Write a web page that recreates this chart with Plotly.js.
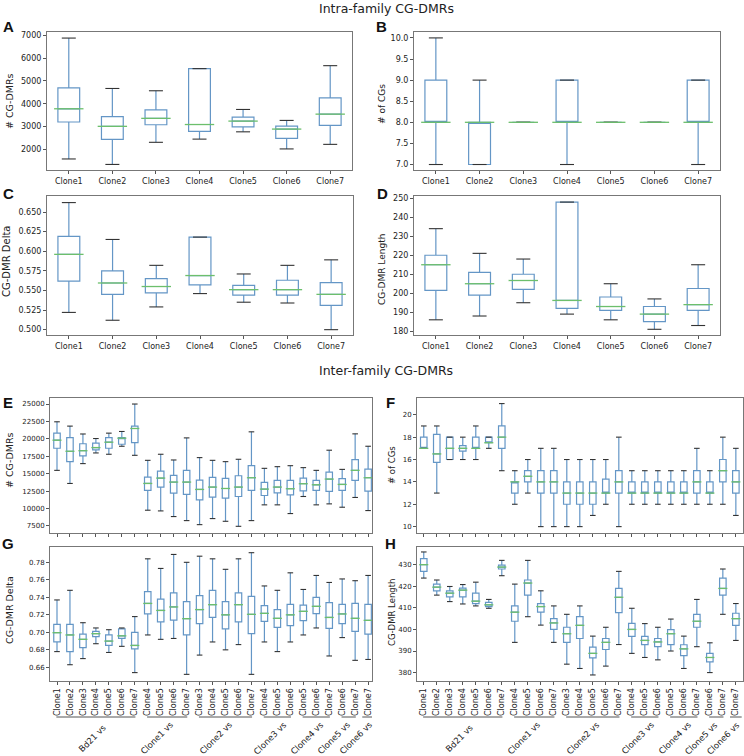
<!DOCTYPE html>
<html><head><meta charset="utf-8">
<script src="https://cdn.plot.ly/plotly-3.0.1.min.js"></script>
<style>html,body{margin:0;padding:0;background:#fff}</style>
</head><body><div id="chart" style="width:744px;height:756px"></div>
<script>
// ---------- DATA ----------
const intraCategories = ['Clone1','Clone2','Clone3','Clone4','Clone5','Clone6','Clone7'];

// A: # CG-DMRs (intra)
const aLow  = [1580,1340,2310,2450,2770,2020,2220];
const aQ1   = [3200,2440,3080,2790,2990,2480,3050];
const aMed  = [3780,3010,3360,3090,3240,2890,3545];
const aQ3   = [4700,3440,3735,5540,3414,3020,4260];
const aHigh = [6880,4670,4570,5540,3750,3270,5670];

// B: # of CGs (intra)
const bLow  = [7,7,8,7,8,8,7];
const bQ1   = [8,7,8,8,8,8,8];
const bMed  = [8,8,8,8,8,8,8];
const bQ3   = [9,8,8,9,8,8,9];
const bHigh = [10,9,8,9,8,8,9];

// C: CG-DMR Delta (intra)
const cLow  = [0.522,0.512,0.529,0.546,0.535,0.534,0.500];
const cQ1   = [0.562,0.545,0.547,0.557,0.544,0.544,0.531];
const cMed  = [0.596,0.5595,0.555,0.569,0.551,0.551,0.545];
const cQ3   = [0.619,0.575,0.565,0.618,0.5565,0.563,0.560];
const cHigh = [0.662,0.615,0.582,0.618,0.571,0.582,0.589];

// D: CG-DMR Length (intra)
const dLow  = [186,188,195,189,186,181,183];
const dQ1   = [201.5,199,202,192,191,185,191];
const dMed  = [215,205,206.7,196.2,193,189,194];
const dQ3   = [220,211,210,248,198,193,202.5];
const dHigh = [234,221,218,248,205,197,215];

// Inter-family comparisons
const interTickLabels = ['Clone1','Clone2','Clone3','Clone4','Clone5','Clone6','Clone7',
  'Clone4','Clone5','Clone6','Clone7',
  'Clone3','Clone4','Clone5','Clone6','Clone7',
  'Clone4','Clone5','Clone6',
  'Clone5','Clone6','Clone7',
  'Clone6','Clone7',
  'Clone7'];
const interGroups = ['Bd21 vs','Clone1 vs','Clone2 vs','Clone3 vs','Clone4 vs','Clone5 vs','Clone6 vs'];
const interGroupSizes = [7,4,5,3,3,2,1];

// E: # CG-DMRs (inter)
const eLow  = [15480,13600,16450,17980,17790,18940,17640, 9760,9660,8850,8270, 7690,8560,8170,7450,8270, 10530,10530,9280, 11730,10530,10670, 10190,11590,9710];
const eQ1   = [18650,16730,17550,18410,18650,19230,19470, 12600,13080,12210,12020, 11250,11630,11490,11730,12600, 11870,12260,11970, 12550,12600,12450, 12600,14040,12500];
const eMed  = [19810,18220,18300,18750,19520,20100,21490, 13600,14370,13800,13800, 12740,13080,12880,13080,14420, 12790,13080,12840, 13560,13410,14230, 13460,15480,14420];
const eQ3   = [20820,20190,19300,19375,20190,20190,21830, 14520,15380,14760,15480, 14090,14470,14330,14710,16150, 13750,14040,14040, 14370,14040,15240, 14280,17020,15670];
const eHigh = [22450,21830,20700,20050,20820,21060,25000, 16920,17790,16970,20140, 17310,16920,16730,17070,21010, 15770,16010,16150, 15870,15480,18370, 15620,20720,18940];

// F: # of CGs (inter)
const fLow  = [17,13,16,16,16,17,15, 12,13,10,10, 10,10,11,12,10, 12,12,12, 12,12,12, 12,12,11];
const fQ1   = [17,15.75,16,16.75,17,17.5,17, 13,14,13,13, 12,12,12,13,13, 13,13,13, 13,13,13, 13,14,13];
const fMed  = [17,16.5,17,17,17,17.5,18, 14,14.5,14,14, 13,13,13,13,14, 13,13,13, 13,13,14, 13,15,14];
const fQ3   = [18,18.25,18,17.25,18,18,19, 14,15,15,15, 14,14,14,14.25,15, 14,14,14, 14,14,15, 14,16,15];
const fHigh = [19,19,18,18,19,18,21, 15,16,17,17, 16,16,16,16,18, 15,15,15, 15,15,17, 15,18,17];

// G: CG-DMR Delta (inter)
const gLow  = [0.678,0.663,0.670,0.687,0.677,0.684,0.654, 0.697,0.692,0.693,0.652, 0.674,0.689,0.680,0.686,0.652, 0.689,0.678,0.689, 0.697,0.705,0.673, 0.694,0.668,0.669];
const gQ1   = [0.689,0.678,0.6825,0.695,0.685,0.693,0.681, 0.721,0.712,0.714,0.697, 0.710,0.717,0.704,0.712,0.6985, 0.7126,0.7057,0.7076, 0.7133,0.7213,0.7046, 0.710,0.701,0.698];
const gMed  = [0.6996,0.697,0.692,0.6985,0.690,0.696,0.685, 0.733,0.725,0.729,0.7156, 0.726,0.7316,0.720,0.7316,0.7206, 0.7217,0.716,0.720, 0.724,0.7297,0.717, 0.721,0.716,0.7137];
const gQ3   = [0.709,0.709,0.698,0.701,0.697,0.704,0.700, 0.7465,0.738,0.745,0.735, 0.742,0.748,0.735,0.745,0.741, 0.7305,0.726,0.732, 0.731,0.740,0.734, 0.732,0.733,0.732];
const gHigh = [0.737,0.748,0.711,0.705,0.703,0.705,0.718, 0.784,0.773,0.789,0.780, 0.787,0.784,0.772,0.784,0.791, 0.753,0.748,0.768, 0.749,0.765,0.757, 0.761,0.759,0.765];

// H: CG-DMR Length (inter)
const hLow  = [423.8,415.9,412.9,411.8,410.9,409.8,424.9, 394,405.9,402,394, 383.9,381.9,378.9,383,393, 388.9,387,385.9, 390,381.9,392, 380,407,394.9];
const hQ1   = [426.9,417.9,415.1,415.1,412,410.6,428, 403.8,415.9,408,400, 394,395.8,386.8,390.7,407.8, 396.8,393,392, 393,387.9,401, 385,415.9,401.9];
const hMed  = [430,419.6,416.8,418.2,413.1,411.4,428.9, 408,421.5,410.6,403, 398,401.9,388.9,394,414.9, 400,394.9,394.2, 398,391,403.8, 387,419,405];
const hQ3   = [432.8,421,417.9,419.1,416.8,412.5,429.8, 410.9,422.9,412,405, 401,405.9,391.8,395.8,419, 402.8,396.8,395.8, 399.9,392.9,407, 388.9,423.8,407.5];
const hHigh = [435.9,422.9,419.9,420.8,421.9,413.9,432, 421,432,417.9,410.9, 407,410.9,396.9,401,426.9, 409.8,402.7,401, 404.8,396.9,413.9, 393.8,428,412];

// ---------- BUILD ----------
const W = 744, H = 756;
const BOX_COLOR = '#6496c6', MED_COLOR = '#6cbf6c', CAP_COLOR = '#333333';
const FONT = 'DejaVu Sans, sans-serif';
// horizontal shift (in category widths) of each rotated group label's centre from its group centre
const GROUP_LABEL_SHIFT = [-0.25,-0.8,-0.75,-0.55,-0.7,-1.15,-0.95];

function px2x(a,b){return [a/W, b/W];}
function px2y(top,bottom){return [1-bottom/H, 1-top/H];}

const panels = [
  {key:'A', low:aLow,q1:aQ1,med:aMed,q3:aQ3,high:aHigh, labels:intraCategories, xd:px2x(47,352), yd:px2y(32,170), xr:[-0.5,6.5], yr:[1096,7146], tick0:2000, dtick:1000, fmt:'d', boxPx:21, capPx:10, title:'# CG-DMRs', tx:9, ty:101, letter:[8,26], showX:true, rot:0, yfs:8, tfs:9.5},
  {key:'B', low:bLow,q1:bQ1,med:bMed,q3:bQ3,high:bHigh, labels:intraCategories, xd:px2x(414,720), yd:px2y(32,170), xr:[-0.5,6.5], yr:[6.87,10.14], tick0:7, dtick:0.5, fmt:'.1f', boxPx:21, capPx:10, title:'# of CGs', tx:382, ty:104, letter:[381,26], showX:true, rot:0, yfs:8, tfs:9},
  {key:'C', low:cLow,q1:cQ1,med:cMed,q3:cQ3,high:cHigh, labels:intraCategories, xd:px2x(47,353), yd:px2y(196,335), xr:[-0.5,6.5], yr:[0.4932,0.6704], tick0:0.5, dtick:0.025, fmt:'.3f', boxPx:21, capPx:10, title:'CG-DMR Delta', tx:7, ty:262, letter:[8,193], showX:true, rot:0, yfs:8, tfs:10},
  {key:'D', low:dLow,q1:dQ1,med:dMed,q3:dQ3,high:dHigh, labels:intraCategories, xd:px2x(414,720), yd:px2y(196,335), xr:[-0.5,6.5], yr:[178,251.2], tick0:180, dtick:10, fmt:'d', boxPx:21, capPx:10, title:'CG-DMR Length', tx:382, ty:270, letter:[382,193], showX:true, rot:0, yfs:8, tfs:9},
  {key:'E', low:eLow,q1:eQ1,med:eMed,q3:eQ3,high:eHigh, labels:interTickLabels, xd:px2x(50,372), yd:px2y(398,533), xr:[-0.54,24.3], yr:[6490,25865], tick0:7500, dtick:2500, fmt:'d', boxPx:6.5, capPx:4, title:'# CG-DMRs', tx:9, ty:460, letter:[8,402], showX:false, rot:0, yfs:7, tfs:9.5},
  {key:'F', low:fLow,q1:fQ1,med:fMed,q3:fQ3,high:fHigh, labels:interTickLabels, xd:px2x(417,743), yd:px2y(398,533), xr:[-0.52,24.55], yr:[9.43,21.5], tick0:10, dtick:2, fmt:'d', boxPx:6.5, capPx:4, title:'# of CGs', tx:392, ty:465, letter:[390,402], showX:false, rot:0, yfs:7, tfs:8.5},
  {key:'G', low:gLow,q1:gQ1,med:gMed,q3:gQ3,high:gHigh, labels:interTickLabels, xd:px2x(50,372), yd:px2y(547,681), xr:[-0.54,24.3], yr:[0.6444,0.7975], tick0:0.66, dtick:0.02, fmt:'.2f', boxPx:6.5, capPx:4, title:'CG-DMR Delta', tx:9, ty:610, letter:[8,543], showX:true, rot:-90, yfs:7, tfs:9.5},
  {key:'H', low:hLow,q1:hQ1,med:hMed,q3:hQ3,high:hHigh, labels:interTickLabels, xd:px2x(417,743), yd:px2y(547,681), xr:[-0.52,24.55], yr:[376.1,438.2], tick0:380, dtick:10, fmt:'d', boxPx:6.5, capPx:4, title:'CG-DMR Length', tx:392, ty:613, letter:[390,543], showX:true, rot:-90, yfs:7, tfs:8.5}
];

const traces = [];
const layout = {
  width: W, height: H, margin:{l:0,r:0,t:0,b:0},
  paper_bgcolor:'#fff', plot_bgcolor:'#fff', showlegend:false,
  font:{family:FONT, size:8, color:'#222'},
  annotations:[], shapes:[]
};

panels.forEach((p,i)=>{
  const n = i+1;
  const xa = n===1?'x':'x'+n, ya = n===1?'y':'y'+n;
  const idx = p.labels.map((_,k)=>k);
  traces.push({
    type:'box', xaxis:xa, yaxis:ya, x:idx,
    q1:p.q1, median:p.med, q3:p.q3, lowerfence:p.low, upperfence:p.high,
    width:0.5, whiskerwidth:0, fillcolor:'rgba(0,0,0,0)',
    line:{color:BOX_COLOR, width:1.2}, boxpoints:false, hoverinfo:'skip'
  });
  // caps
  traces.push({
    type:'scatter', mode:'markers', xaxis:xa, yaxis:ya,
    x: idx.concat(idx), y: p.low.concat(p.high),
    marker:{symbol:'line-ew', size:p.capPx, color:CAP_COLOR, line:{color:CAP_COLOR, width:1.1}},
    hoverinfo:'skip'
  });
  // medians
  traces.push({
    type:'scatter', mode:'markers', xaxis:xa, yaxis:ya,
    x: idx, y: p.med,
    marker:{symbol:'line-ew', size:p.boxPx, color:MED_COLOR, line:{color:MED_COLOR, width:1.3}},
    hoverinfo:'skip'
  });
  const xk = n===1?'xaxis':'xaxis'+n, yk = n===1?'yaxis':'yaxis'+n;
  layout[xk] = {
    domain:p.xd, anchor:ya, range:p.xr, type:'linear',
    tickmode:'array', tickvals:idx, ticktext:p.labels, showticklabels:p.showX,
    tickangle:p.rot, tickfont:{size:8, family:FONT, color:'#222'},
    ticks:'outside', ticklen:3, tickcolor:'#555', tickwidth:1,
    showline:true, linecolor:'#777', linewidth:1, mirror:true,
    showgrid:false, zeroline:false, fixedrange:true
  };
  layout[yk] = {
    domain:p.yd, anchor:xa, range:p.yr, tickmode:'linear', tick0:p.tick0, dtick:p.dtick,
    tickformat:p.fmt, tickfont:{size:p.yfs, family:FONT, color:'#222'},
    ticks:'outside', ticklen:3, tickcolor:'#555', tickwidth:1,
    showline:true, linecolor:'#777', linewidth:1, mirror:true,
    showgrid:false, zeroline:false, fixedrange:true
  };
  // y title
  layout.annotations.push({
    xref:'paper', yref:'paper', x:p.tx/W, y:1-p.ty/H, text:p.title, showarrow:false,
    textangle:-90, xanchor:'center', yanchor:'middle',
    font:{family:FONT, size:p.tfs, color:'#222'}
  });
  // panel letter
  layout.annotations.push({
    xref:'paper', yref:'paper', x:p.letter[0]/W, y:1-p.letter[1]/H, text:'<b>'+p.key+'</b>',
    showarrow:false, xanchor:'center', yanchor:'middle',
    font:{family:'Liberation Sans, Arial, sans-serif', size:15, color:'#111'}
  });
  // group underlines and labels (G,H)
  if (p.rot === -90) {
    let start = 0;
    interGroupSizes.forEach((sz,g)=>{
      const end = start + sz - 1;
      let a = start - 0.05, b = end + 0.05;
      if (sz === 1) { a = start - 0.45; b = end + 0.45; }
      layout.shapes.push({type:'line', xref:xa, yref:'paper', x0:a, x1:b,
        y0:1-717/H, y1:1-717/H, line:{color:'#555', width:1}});
      layout.annotations.push({
        xref:xa, yref:'paper', x:(start+end)/2 + GROUP_LABEL_SHIFT[g], y:1-738/H,
        text:interGroups[g], showarrow:false, textangle:-45,
        xanchor:'center', yanchor:'middle', font:{family:FONT, size:8.5, color:'#222'}
      });
      start = end + 1;
    });
  }
});

layout.annotations.push({xref:'paper', yref:'paper', x:386/W, y:1-9/H, text:'Intra-family CG-DMRs',
  showarrow:false, xanchor:'center', yanchor:'middle', font:{family:FONT, size:12.5, color:'#222'}});
layout.annotations.push({xref:'paper', yref:'paper', x:386/W, y:1-371/H, text:'Inter-family CG-DMRs',
  showarrow:false, xanchor:'center', yanchor:'middle', font:{family:FONT, size:12.5, color:'#222'}});

Plotly.newPlot('chart', traces, layout, {staticPlot:true, displayModeBar:false});
</script>
</body></html>
